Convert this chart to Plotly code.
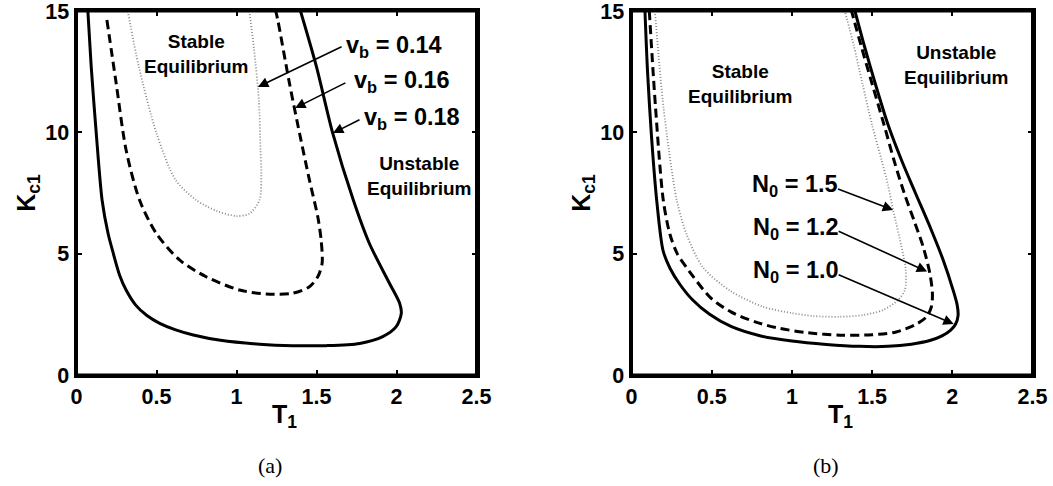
import plotly.graph_objects as go

# ---------------- data ----------------
# Panel (a): stability boundaries for different v_b
a_018_T = [0.071, 0.092, 0.123, 0.16, 0.197, 0.23, 0.27, 0.31, 0.37, 0.44, 0.52, 0.62, 0.73, 0.90, 1.144, 1.352, 1.56, 1.77, 1.914, 1.998, 2.03, 2.02, 1.956, 1.83, 1.73, 1.60, 1.50, 1.40]
a_018_K = [15, 12.7, 10.0, 7.2, 5.84, 5.01, 4.1, 3.5, 2.88, 2.45, 2.13, 1.86, 1.65, 1.43, 1.27, 1.21, 1.21, 1.30, 1.58, 1.99, 2.54, 2.95, 3.78, 5.43, 7.21, 10.0, 12.7, 15]

a_016_T = [0.19, 0.248, 0.31, 0.394, 0.498, 0.644, 0.81, 1.019, 1.185, 1.352, 1.456, 1.508, 1.535, 1.529, 1.508, 1.456, 1.394, 1.331, 1.258, 1.245]
a_016_K = [14.63, 12.02, 9.27, 7.21, 5.84, 4.74, 4.05, 3.50, 3.34, 3.37, 3.64, 4.05, 4.6, 5.56, 6.52, 8.03, 9.96, 12.02, 14.63, 15]

a_014_T = [0.32, 0.39, 0.50, 0.62, 0.748, 0.88, 0.998, 1.08, 1.144, 1.155, 1.15, 1.14, 1.11, 1.08]
a_014_K = [15, 12.7, 9.96, 8.03, 7.21, 6.75, 6.55, 6.65, 7.21, 8.3, 9.27, 11.3, 13.4, 15]

# Panel (b): stability boundaries for different N_0
b_10_T = [0.084, 0.10, 0.125, 0.157, 0.197, 0.24, 0.30, 0.38, 0.487, 0.62, 0.80, 1.0, 1.215, 1.42, 1.60, 1.745, 1.86, 1.936, 1.99, 2.02, 2.036, 2.03, 2.005, 1.943, 1.86, 1.77, 1.683, 1.60, 1.52, 1.45, 1.393]
b_10_K = [15, 12.5, 9.8, 7.21, 5.12, 4.4, 3.75, 3.1, 2.5, 2.0, 1.62, 1.40, 1.26, 1.18, 1.18, 1.27, 1.42, 1.61, 1.85, 2.09, 2.45, 2.9, 3.5, 4.74, 6.12, 7.5, 8.86, 10.3, 12.0, 13.6, 15]

b_12_T = [0.111, 0.15, 0.198, 0.239, 0.285, 0.343, 0.492, 0.62, 0.78, 0.925, 1.10, 1.30, 1.50, 1.65, 1.777, 1.839, 1.870, 1.876, 1.86, 1.818, 1.765, 1.70, 1.636, 1.575, 1.50, 1.43, 1.372]
b_12_K = [15, 11.0, 7.21, 5.81, 5.0, 4.43, 3.19, 2.60, 2.17, 1.92, 1.74, 1.64, 1.66, 1.77, 2.10, 2.40, 2.82, 3.37, 4.19, 5.29, 6.3, 7.5, 8.86, 10.3, 12.0, 13.6, 15]

b_15_T = [0.146, 0.20, 0.282, 0.343, 0.446, 0.62, 0.821, 1.0, 1.133, 1.30, 1.444, 1.569, 1.662, 1.704, 1.710, 1.683, 1.631, 1.60, 1.559, 1.50, 1.44, 1.385, 1.330]
b_15_K = [15, 11.0, 7.21, 5.8, 4.43, 3.45, 2.81, 2.55, 2.43, 2.40, 2.47, 2.68, 3.09, 3.50, 4.33, 5.29, 6.80, 7.8, 8.86, 10.3, 12.0, 13.6, 15]

x_ticks = [0, 0.5, 1, 1.5, 2, 2.5]
x_labels = ["0", "0.5", "1", "1.5", "2", "2.5"]
y_ticks = [0, 5, 10, 15]
y_labels = ["0", "5", "10", "15"]

# labels: (text, text_T, text_K, tail_T, tail_K, head_T, head_K)
a_labels = [
    ("v<sub>b</sub> = 0.14", 1.672, 13.55, 1.666, 13.56, 1.134, 11.87),
    ("v<sub>b</sub> = 0.16", 1.722, 12.10, 1.69, 12.07, 1.366, 11.0),
    ("v<sub>b</sub> = 0.18", 1.784, 10.58, 1.778, 10.55, 1.603, 9.97),
]
b_labels = [
    ("N<sub>0</sub> = 1.5", 0.738, 7.80, 1.278, 7.69, 1.631, 6.80),
    ("N<sub>0</sub> = 1.2", 0.742, 6.03, 1.282, 5.95, 1.843, 4.26),
    ("N<sub>0</sub> = 1.0", 0.742, 4.26, 1.282, 4.16, 2.009, 2.10),
]

# ---------------- figure ----------------
FONT = "Liberation Sans"
solid = dict(color="black", width=3)
dashed = dict(color="black", width=3, dash="9px,5px")
dotted = dict(color="#888888", width=1.8, dash="1px,2px")

fig = go.Figure()
for T, K, ln in [(a_018_T, a_018_K, solid), (a_016_T, a_016_K, dashed), (a_014_T, a_014_K, dotted)]:
    fig.add_trace(go.Scatter(x=T, y=K, mode="lines", line=dict(shape="spline", smoothing=0.8, **ln),
                             xaxis="x", yaxis="y", hoverinfo="skip"))
for T, K, ln in [(b_10_T, b_10_K, solid), (b_12_T, b_12_K, dashed), (b_15_T, b_15_K, dotted)]:
    fig.add_trace(go.Scatter(x=T, y=K, mode="lines", line=dict(shape="spline", smoothing=0.8, **ln),
                             xaxis="x2", yaxis="y2", hoverinfo="skip"))

tickfont = dict(family=FONT, size=21.5, color="black", weight="bold")
titlefont = dict(family=FONT, size=25, color="black", weight="bold")

def xax(domain, anchor):
    return dict(domain=domain, anchor=anchor, range=[0, 2.5], tickvals=x_ticks, ticktext=x_labels,
                showline=True, linewidth=3, linecolor="black", mirror="allticks",
                ticks="inside", ticklen=5, tickwidth=2, tickcolor="black",
                showgrid=False, zeroline=False, tickfont=tickfont, automargin=False,
                ticklabeloverflow="allow")

def yax(domain, anchor):
    return dict(domain=domain, anchor=anchor, range=[0, 15], tickvals=y_ticks, ticktext=y_labels,
                showline=True, linewidth=3, linecolor="black", mirror="allticks",
                ticks="inside", ticklen=5, tickwidth=2, tickcolor="black",
                showgrid=False, zeroline=False, tickfont=tickfont, automargin=False,
                ticklabeloverflow="allow",
                title=dict(text="K<sub>c1</sub>", font=titlefont, standoff=3))

ydom = [1 - 375 / 486, 1 - 11 / 486]
fig.update_layout(
    width=1053, height=486, margin=dict(l=0, r=0, t=0, b=0),
    paper_bgcolor="white", plot_bgcolor="white", showlegend=False,
    xaxis=xax([76.5 / 1053, 476.5 / 1053], "y"),
    yaxis=yax(ydom, "x"),
    xaxis2=xax([631.5 / 1053, 1032.5 / 1053], "y2"),
    yaxis2=yax(ydom, "x2"),
)

# frame around each panel
shapes = []
for xr, yr in [("x", "y"), ("x2", "y2")]:
    shapes.append(dict(type="rect", xref=xr + " domain", yref=yr + " domain", x0=0, x1=1, y0=0, y1=1,
                       line=dict(color="black", width=3), fillcolor="rgba(0,0,0,0)", layer="above"))
fig.update_layout(shapes=shapes)

ann = []
lblfont = dict(family=FONT, size=23.5, color="black", weight="bold")
txtfont = dict(family=FONT, size=19, color="black", weight="bold")
for labels, xr, yr in [(a_labels, "x", "y"), (b_labels, "x2", "y2")]:
    for text, tx, ty, ax_, ay_, hx, hy in labels:
        ann.append(dict(x=hx, y=hy, ax=ax_, ay=ay_, xref=xr, yref=yr, axref=xr, ayref=yr,
                        text="", showarrow=True, arrowhead=2, arrowsize=1.3, arrowwidth=1.6,
                        arrowcolor="black", standoff=0, startstandoff=0))
        ann.append(dict(x=tx, y=ty, xref=xr, yref=yr, text=text, showarrow=False,
                        xanchor="left", yanchor="middle", font=lblfont))

region_text = [
    ("Stable<br>Equilibrium", 0.75, 13.23, "x", "y"),
    ("Unstable<br>Equilibrium", 2.144, 8.18, "x", "y"),
    ("Stable<br>Equilibrium", 0.68, 12.0, "x2", "y2"),
    ("Unstable<br>Equilibrium", 2.026, 12.77, "x2", "y2"),
]
for text, tx, ty, xr, yr in region_text:
    ann.append(dict(x=tx, y=ty, xref=xr, yref=yr, text=text, showarrow=False,
                    xanchor="center", yanchor="middle", font=txtfont))

# x-axis titles
for px in [284, 840]:
    ann.append(dict(x=px / 1053, y=1 - 416 / 486, xref="paper", yref="paper", text="T<sub>1</sub>",
                    showarrow=False, xanchor="center", yanchor="middle", font=titlefont))

capfont = dict(family="Liberation Serif", size=22, color="black")
for text, px in [("(a)", 270), ("(b)", 826)]:
    ann.append(dict(x=px / 1053, y=1 - 465 / 486, xref="paper", yref="paper", text=text,
                    showarrow=False, xanchor="center", yanchor="middle", font=capfont))

fig.update_layout(annotations=ann)
fig.write_html("out.html")
